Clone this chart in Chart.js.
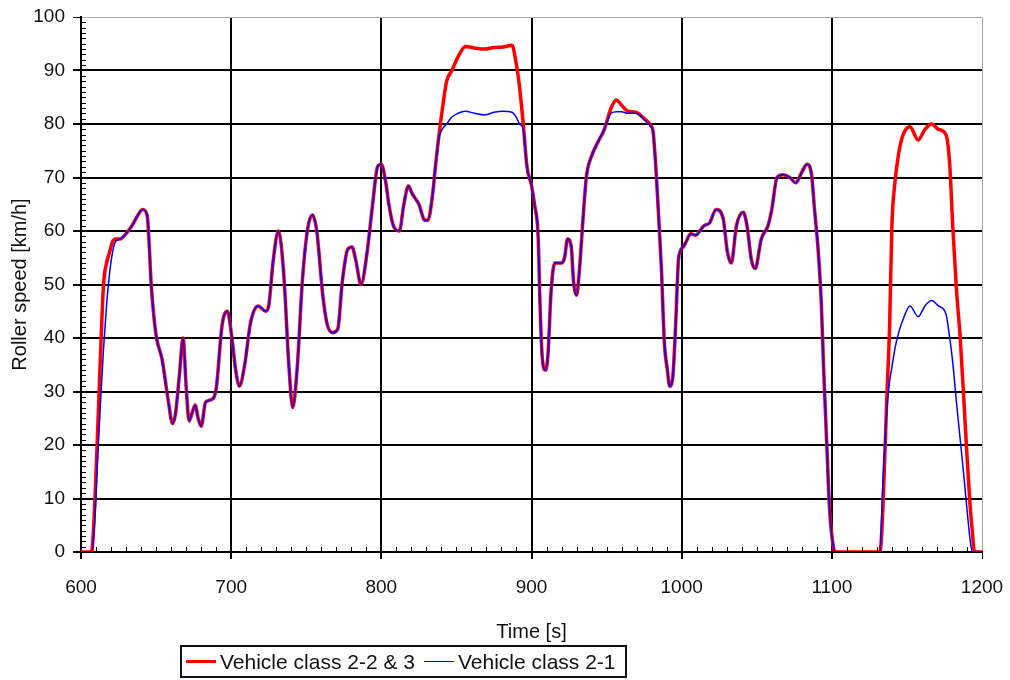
<!DOCTYPE html>
<html>
<head>
<meta charset="utf-8">
<script src="https://cdn.jsdelivr.net/npm/chart.js@4/dist/chart.umd.min.js"></script>
<style>
  body { margin: 0; background: #fff; }
  #wrap { position: relative; width: 1010px; height: 680px; font-family: "Liberation Sans", Arial, sans-serif; }
  #legend {
    position: absolute; left: 180px; top: 645px; width: 447px; height: 33px;
    box-sizing: border-box; border: 2px solid #111;
    display: flex; align-items: center; padding-left: 4px;
    font-size: 21px; color: #111; white-space: nowrap;
  }
  .item { display: flex; align-items: center; margin-right: 9px; }
  .swatch { display: inline-block; width: 30px; margin-right: 4px; }
</style>
</head>
<body>
<div id="wrap">
  <canvas id="chart" width="1010" height="680"></canvas>
  <div id="legend"></div>
</div>
<script>
// time [s] and roller speed [km/h]
const timeS = [600, 607, 609, 611, 613, 615, 617, 619, 621, 623, 626, 630, 634, 638, 641, 644, 647, 650, 654, 658,
  661, 663, 665.5, 668, 670, 672, 674, 676, 678, 680, 683, 687, 690, 694, 697.5, 700.5, 703, 705.5, 709, 713,
  718, 723, 725, 728, 731.5, 735, 738.5, 741, 744, 747.5, 751, 754, 757, 761, 764, 767.5, 771, 774, 777.5, 780.5,
  783, 786.5, 790.5, 794, 797.5, 800, 803, 805, 808, 812, 815, 818, 820.5, 825, 829, 831, 834, 836, 838, 840.5,
  843.5, 847, 851, 856, 862, 869, 875, 881, 887, 890, 892, 894.5, 897, 900, 902, 904.5, 905.5, 907, 909.3, 911,
  913, 915.5, 920, 922, 924, 926.5, 928, 930, 932, 934, 936.5, 940, 944, 948.5, 953, 956.5, 960, 964, 969.5, 975,
  979.5, 981, 983, 985, 986.5, 988.5, 990.5, 992, 994, 996, 998, 1001, 1003, 1006, 1009.5, 1012, 1015, 1018.5, 1023, 1027.5,
  1030.5, 1033, 1036.5, 1041, 1043.5, 1046.5, 1049, 1053, 1057.5, 1060, 1063.5, 1067.5, 1072, 1076, 1080, 1083.5, 1086.5, 1088.5, 1091, 1093,
  1094.5, 1096.5, 1098.5, 1101, 1102.5, 1132, 1134, 1136.5, 1138.5, 1140, 1142, 1144.5, 1147.5, 1152, 1157.5, 1162, 1166.5, 1171, 1176, 1178.5,
  1180.5, 1183, 1185.5, 1188, 1190, 1192, 1193.5, 1195, 1200];

const speedClass223 = [0, 0, 8, 22, 37, 50, 54, 56, 58, 58.5, 58.5, 59.5, 61, 63, 64, 63, 49, 40.5, 36, 28.5,
  24, 26, 33, 40, 31, 24.5, 26, 27.5, 25, 23.5, 28, 28.5, 30.5, 42.5, 45, 40, 34, 31, 35, 43,
  46, 45, 46, 54.5, 60, 52, 34.5, 27, 34.5, 51, 60.5, 63, 60, 48, 42.5, 41, 41.7, 50.5, 56.5, 57,
  54.5, 50, 56, 64.5, 72, 72.5, 69, 65, 61, 60, 65, 68.4, 67, 65, 62, 62, 66.5, 72, 77, 82.5,
  88, 90, 92.5, 94.5, 94.2, 94, 94.3, 94.4, 94.7, 91, 87, 80, 72, 68.5, 65, 58.5, 48, 37, 34, 37,
  48.5, 54, 54, 55, 58.5, 57, 50.5, 48, 53, 61, 70, 74, 76.5, 79, 83, 84.5, 83.5, 82.4, 82.2, 81,
  79.7, 78.5, 71, 61, 53, 39, 34, 31, 32.5, 42.5, 55, 57, 58, 59.5, 59.2, 60, 61, 61.5, 64, 62.5,
  56, 54, 61, 63.5, 61, 54.5, 53, 58.5, 61, 64, 70, 70.5, 70, 69, 71, 72.5, 70.5, 64, 56, 46.5,
  34.5, 21, 8, 1, 0, 0, 8, 28, 42.5, 61, 69, 74.5, 78, 79.5, 77, 79, 80, 79, 78, 72.5,
  61, 49, 40, 28, 18, 9, 4, 0, 0];

const speedClass21 = [0, 0, 5, 17, 28, 38, 46, 52, 56, 58, 58.5, 59.5, 61, 63, 64, 63, 49, 40.5, 36, 28.5,
  24, 26, 33, 40, 31, 24.5, 26, 27.5, 25, 23.5, 28, 28.5, 30.5, 42.5, 45, 40, 34, 31, 35, 43,
  46, 45, 46, 54.5, 60, 52, 34.5, 27, 34.5, 51, 60.5, 63, 60, 48, 42.5, 41, 41.7, 50.5, 56.5, 57,
  54.5, 50, 56, 64.5, 72, 72.5, 69, 65, 61, 60, 65, 68.4, 67, 65, 62, 62, 66.5, 72, 77, 79,
  80, 81.3, 82, 82.4, 82, 81.7, 82.2, 82.4, 82.2, 81.2, 80, 79, 72, 68.5, 65, 58.5, 48, 37, 34, 37,
  48.5, 54, 54, 55, 58.5, 57, 50.5, 48, 53, 61, 70, 74, 76.5, 79, 82, 82.3, 82.3, 82, 82, 80.8,
  79.5, 78.5, 71, 61, 53, 39, 34, 31, 32.5, 42.5, 55, 57, 58, 59.5, 59.2, 60, 61, 61.5, 64, 62.5,
  56, 54, 61, 63.5, 61, 54.5, 53, 58.5, 61, 64, 70, 70.5, 70, 69, 71, 72.5, 70.5, 64, 56, 46.5,
  34.5, 21, 8, 1, 0, 0, 13, 26, 32, 34.5, 38, 41, 43.5, 46, 44, 46, 47, 46, 44.5, 40,
  35.5, 28, 21, 14, 8, 2.5, 0, 0, 0];

const seriesNames = ["Vehicle class 2-2 & 3", "Vehicle class 2-1"];
const seriesColors = ["#ff0000", "#0000ff"];
const seriesWidths = [3.5, 1.5];

const toPoints = (values) => timeS.map((t, i) => ({ x: t, y: values[i] }));
const FONT = "'Liberation Sans', Arial, sans-serif";

// minor tick marks like the spreadsheet axes
const minorTicks = {
  id: "minorTicks",
  afterDraw(chart) {
    const { ctx, chartArea, scales } = chart;
    ctx.save();
    ctx.strokeStyle = "#000";
    ctx.lineWidth = 1;
    ctx.beginPath();
    for (let v = 1; v < 100; v++) {
      if (v % 10 === 0) continue;
      const y = Math.round(scales.y.getPixelForValue(v)) + 0.5;
      ctx.moveTo(chartArea.left, y);
      ctx.lineTo(chartArea.left + 5, y);
    }
    for (let t = 610; t < 1200; t += 10) {
      if (t % 100 === 0) continue;
      const x = Math.round(scales.x.getPixelForValue(t)) + 0.5;
      ctx.moveTo(x, chartArea.bottom);
      ctx.lineTo(x, chartArea.bottom - 5);
    }
    ctx.stroke();
    ctx.restore();
  }
};

const chart = new Chart(document.getElementById("chart"), {
  type: "line",
  data: {
    datasets: [
      {
        label: seriesNames[0],
        data: toPoints(speedClass223),
        borderColor: seriesColors[0],
        borderWidth: seriesWidths[0],
        pointRadius: 0,
        cubicInterpolationMode: "monotone",
        order: 2
      },
      {
        label: seriesNames[1],
        data: toPoints(speedClass21),
        borderColor: seriesColors[1],
        borderWidth: seriesWidths[1],
        pointRadius: 0,
        cubicInterpolationMode: "monotone",
        order: 1
      }
    ]
  },
  options: {
    responsive: false,
    animation: false,
    layout: { padding: { top: 17, right: 28, left: 0, bottom: 0 } },
    plugins: { legend: { display: false }, tooltip: { enabled: false } },
    scales: {
      x: {
        type: "linear",
        min: 600,
        max: 1200,
        afterFit: (s) => {
          s.height = 128;
          s.paddingLeft = 0;
          s.paddingRight = 0;
        },
        ticks: { stepSize: 100, color: "#111", padding: 17, font: { family: FONT, size: 19 }, callback: (v) => String(v) },
        grid: {
          color: (c) => (c.tick && c.tick.value === 1200 ? "#a8a8a8" : "#000"),
          lineWidth: (c) => (c.tick && c.tick.value === 1200 ? 1 : 2),
          tickColor: "#000",
          tickLength: 7
        },
        border: { color: "#000", width: 2 },
        title: { display: true, text: "Time [s]", color: "#111", padding: { bottom: 36 }, font: { family: FONT, size: 20 } }
      },
      y: {
        min: 0,
        max: 100,
        afterFit: (s) => {
          s.width = 81;
          s.paddingTop = 0;
          s.paddingBottom = 0;
        },
        ticks: { stepSize: 10, color: "#111", padding: 8, font: { family: FONT, size: 19 }, callback: (v) => String(v) },
        grid: {
          color: (c) => (c.tick && c.tick.value === 100 ? "#a8a8a8" : "#000"),
          lineWidth: (c) => (c.tick && c.tick.value === 100 ? 1 : 2),
          tickColor: "#000",
          tickLength: 8
        },
        border: { color: "#000", width: 2 },
        title: { display: true, text: "Roller speed [km/h]", color: "#111", padding: { top: 8 }, font: { family: FONT, size: 20 } }
      }
    }
  },
  plugins: [minorTicks]
});

document.getElementById("legend").innerHTML = chart.data.datasets
  .map(
    (ds) => `
      <span class="item">
        <span class="swatch" style="border-top:${ds.borderWidth}px solid ${ds.borderColor}"></span>
        <span>${ds.label}</span>
      </span>`
  )
  .join("");
</script>
</body>
</html>
